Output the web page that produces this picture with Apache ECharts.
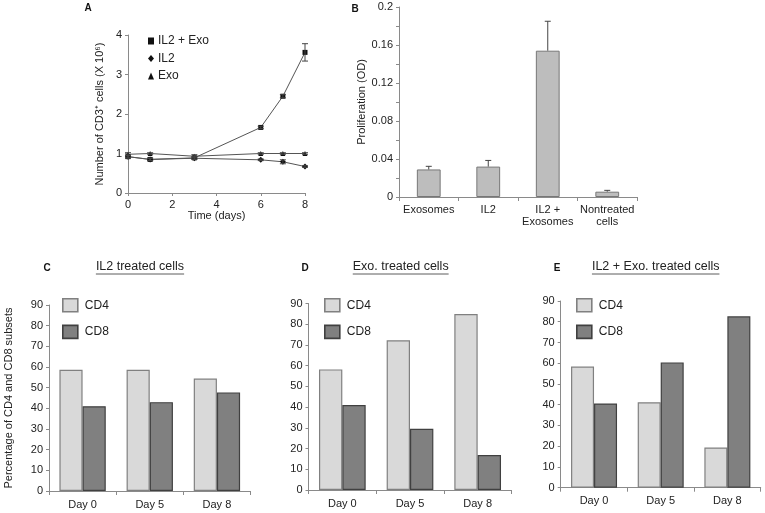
<!DOCTYPE html>
<html><head><meta charset="utf-8">
<script src="https://cdn.jsdelivr.net/npm/echarts@6/dist/echarts.min.js"></script>
<style>html,body{margin:0;padding:0;background:#fff}#c{width:765px;height:513px}</style>
</head><body><div id="c"></div>
<script>
// ---- Panel A data ----
const daysA = [0, 1, 3, 6, 7, 8];
const il2Exo = [0.92, 0.85, 0.89, 1.66, 2.45, 3.56];
const il2Exo_err = [0.04, 0.03, 0.03, 0.03, 0.04, 0.22];
const il2 = [0.92, 0.85, 0.88, 0.84, 0.79, 0.67];
const il2_err = [0.03, 0.03, 0.03, 0.02, 0.05, 0.02];
const exo = [0.98, 1.0, 0.93, 1.0, 1.0, 1.0];
const exo_err = [0.04, 0.02, 0.04, 0.02, 0.02, 0.02];
// ---- Panel B data ----
const catsB = ['Exosomes', 'IL2', 'IL2 +\nExosomes', 'Nontreated\ncells'];
const prolif = [0.029, 0.032, 0.154, 0.0056];
const prolif_err = [0.0033, 0.0065, 0.031, 0.0014];
// ---- Panels C, D, E data ----
const daysCat = ['Day 0', 'Day 5', 'Day 8'];
const cd4_C = [58.7, 58.7, 54.4];
const cd8_C = [41.0, 43.0, 47.7];
const cd4_D = [58.2, 72.3, 84.9];
const cd8_D = [41.0, 29.5, 16.9];
const cd4_E = [58.4, 41.2, 19.4];
const cd8_E = [40.6, 60.4, 82.6];

const FONT = '"Liberation Sans", Arial, sans-serif';
const TXT = '#222';
const AX = '#8a8a8a';

const chart = echarts.init(document.getElementById('c'), null, {renderer: 'canvas'});

function errRender(oneSided) {
  return function (params, api) {
    const x = api.value(0), y = api.value(1), e = api.value(2);
    const top = api.coord([x, y + e]);
    const bot = oneSided ? api.coord([x, y]) : api.coord([x, y - e]);
    const w = 3;
    const st = {stroke: '#444', lineWidth: 1};
    const ch = [
      {type: 'line', shape: {x1: top[0], y1: top[1], x2: bot[0], y2: bot[1]}, style: st},
      {type: 'line', shape: {x1: top[0] - w, y1: top[1], x2: top[0] + w, y2: top[1]}, style: st}
    ];
    if (!oneSided) ch.push({type: 'line', shape: {x1: bot[0] - w, y1: bot[1], x2: bot[0] + w, y2: bot[1]}, style: st});
    return {type: 'group', children: ch};
  };
}

const grids = [
  {left: 128, top: 35, width: 177, height: 158},     // A
  {left: 399, top: 7, width: 238, height: 190},      // B
  {left: 49, top: 305, width: 201.5, height: 186},   // C
  {left: 308.5, top: 303.5, width: 203, height: 186.5}, // D
  {left: 560.7, top: 301, width: 200, height: 186.7}   // E
];

const axisLine = {show: true, lineStyle: {color: AX, width: 1}};
const axisTick = {show: true, length: 3, lineStyle: {color: AX}};
const lab = {color: TXT, fontFamily: FONT, fontSize: 11};

const xAxes = [
  {gridIndex: 0, type: 'value', min: 0, max: 8, interval: 2, axisLine, axisTick, splitLine: {show: false},
   axisLabel: Object.assign({margin: 6}, lab), name: 'Time (days)', nameLocation: 'middle', nameGap: 16,
   nameTextStyle: {color: TXT, fontFamily: FONT, fontSize: 11}},
  {gridIndex: 1, type: 'category', data: catsB, axisLine, axisTick: {show: true, length: 4, lineStyle: {color: AX}},
   axisLabel: Object.assign({margin: 7, interval: 0, lineHeight: 12}, lab)},
  {gridIndex: 2, type: 'category', data: daysCat, axisLine, axisTick: {show: true, length: 4, lineStyle: {color: AX}},
   axisLabel: Object.assign({margin: 8, interval: 0}, lab)},
  {gridIndex: 3, type: 'category', data: daysCat, axisLine, axisTick: {show: true, length: 4, lineStyle: {color: AX}},
   axisLabel: Object.assign({margin: 8, interval: 0}, lab)},
  {gridIndex: 4, type: 'category', data: daysCat, axisLine, axisTick: {show: true, length: 4, lineStyle: {color: AX}},
   axisLabel: Object.assign({margin: 8, interval: 0}, lab)}
];

const yPct = (gi, withName) => Object.assign({
  gridIndex: gi, type: 'value', min: 0, max: 90, interval: 10, axisLine, axisTick, splitLine: {show: false},
  axisLabel: Object.assign({margin: 6}, lab)
}, withName ? {name: 'Percentage of CD4 and CD8 subsets', nameLocation: 'middle', nameGap: 35,
  nameTextStyle: {color: TXT, fontFamily: FONT, fontSize: 11}} : {});

const yAxes = [
  {gridIndex: 0, type: 'value', min: 0, max: 4, interval: 1, axisLine, axisTick, splitLine: {show: false},
   axisLabel: Object.assign({margin: 6}, lab), name: 'Number of CD3\u207A cells (X 10\u2076)', nameLocation: 'middle', nameGap: 23,
   nameTextStyle: {color: TXT, fontFamily: FONT, fontSize: 11}},
  {gridIndex: 1, type: 'value', min: 0, max: 0.2, interval: 0.02, axisLine, axisTick, splitLine: {show: false},
   axisLabel: Object.assign({margin: 6, formatter: v => { const r = Math.round(v * 100); return r % 4 === 0 ? String(+v.toFixed(2)) : ''; }}, lab),
   name: 'Proliferation (OD)', nameLocation: 'middle', nameGap: 30,
   nameTextStyle: {color: TXT, fontFamily: FONT, fontSize: 11}},
  yPct(2, true), yPct(3, false), yPct(4, false)
];

const pair = (xs, ys) => xs.map((x, i) => [x, ys[i]]);
const trip = (xs, ys, es) => xs.map((x, i) => [x, ys[i], es[i]]);

const lineStyle = {color: '#555', width: 1};
const series = [
  {name: 'IL2 + Exo', type: 'line', xAxisIndex: 0, yAxisIndex: 0, data: pair(daysA, il2Exo), symbol: 'rect', symbolSize: 5,
   itemStyle: {color: '#111'}, lineStyle, z: 3},
  {name: 'IL2', type: 'line', xAxisIndex: 0, yAxisIndex: 0, data: pair(daysA, il2), symbol: 'diamond', symbolSize: 6,
   itemStyle: {color: '#111'}, lineStyle, z: 3},
  {name: 'Exo', type: 'line', xAxisIndex: 0, yAxisIndex: 0, data: pair(daysA, exo), symbol: 'triangle', symbolSize: 5,
   itemStyle: {color: '#111'}, lineStyle, z: 3},
  {type: 'custom', xAxisIndex: 0, yAxisIndex: 0, renderItem: errRender(false), data: trip(daysA, il2Exo, il2Exo_err), z: 4},
  {type: 'custom', xAxisIndex: 0, yAxisIndex: 0, renderItem: errRender(false), data: trip(daysA, il2, il2_err), z: 4},
  {type: 'custom', xAxisIndex: 0, yAxisIndex: 0, renderItem: errRender(false), data: trip(daysA, exo, exo_err), z: 4},
  {name: 'Proliferation', type: 'bar', xAxisIndex: 1, yAxisIndex: 1, data: prolif, barWidth: '40%',
   itemStyle: {color: '#bdbdbd', borderColor: '#777', borderWidth: 1}},
  {type: 'custom', xAxisIndex: 1, yAxisIndex: 1, renderItem: errRender(true), data: trip(catsB.map((c, i) => i), prolif, prolif_err), z: 4}
];

const cd4Style = {color: '#d9d9d9', borderColor: '#808080', borderWidth: 1.2};
const cd8Style = {color: '#808080', borderColor: '#404040', borderWidth: 1.2};
[[cd4_C, cd8_C], [cd4_D, cd8_D], [cd4_E, cd8_E]].forEach((p, k) => {
  series.push({name: 'CD4', type: 'bar', xAxisIndex: 2 + k, yAxisIndex: 2 + k, data: p[0], barGap: '0%', barCategoryGap: '31%', itemStyle: cd4Style});
  series.push({name: 'CD8', type: 'bar', xAxisIndex: 2 + k, yAxisIndex: 2 + k, data: p[1], barGap: '0%', barCategoryGap: '31%', itemStyle: cd8Style});
});

const legA = {orient: 'vertical', left: 143, top: 30, itemWidth: 6, itemHeight: 7, itemGap: 5.5, selectedMode: false,
  textStyle: {color: TXT, fontFamily: FONT, fontSize: 12, padding: [0, 0, 0, -1]},
  data: [{name: 'IL2 + Exo', icon: 'rect'}, {name: 'IL2', icon: 'diamond'}, {name: 'Exo', icon: 'triangle'}]};
const legBar = left => ({orient: 'vertical', left: left, top: 293, itemWidth: 15, itemHeight: 13, itemGap: 12, selectedMode: false,
  itemStyle: {borderWidth: 1.6},
  textStyle: {color: TXT, fontFamily: FONT, fontSize: 12, padding: [0, 0, 0, 2]},
  data: [{name: 'CD4', icon: 'rect'}, {name: 'CD8', icon: 'rect'}]});

// titles with underline
const mctx = document.createElement('canvas').getContext('2d');
function uTitle(text, cx, cy) {
  const f = '12.5px ' + FONT;
  mctx.font = f;
  const w = mctx.measureText(text).width;
  return [
    {type: 'text', x: cx, y: cy, style: {text: text, font: f, fill: '#222', align: 'center', verticalAlign: 'middle'}},
    {type: 'line', shape: {x1: cx - w / 2, y1: cy + 7, x2: cx + w / 2, y2: cy + 7}, style: {stroke: '#333', lineWidth: 0.8}}
  ];
}
function letter(t, x, y) {
  return {type: 'text', x: x, y: y, style: {text: t, font: 'bold 10px ' + FONT, fill: '#111', align: 'center', verticalAlign: 'middle'}};
}
const graphic = [].concat(
  uTitle('IL2 treated cells', 140, 267),
  uTitle('Exo. treated cells', 400.7, 267),
  uTitle('IL2 + Exo. treated cells', 655.7, 267),
  [letter('A', 88, 8), letter('B', 355, 9), letter('C', 47, 268), letter('D', 305, 268), letter('E', 557, 268)]
);

chart.setOption({
  animation: false,
  backgroundColor: '#fff',
  textStyle: {fontFamily: FONT},
  grid: grids,
  xAxis: xAxes,
  yAxis: yAxes,
  legend: [legA, legBar(57), legBar(319), legBar(571)],
  series: series,
  graphic: graphic
});
</script></body></html>
